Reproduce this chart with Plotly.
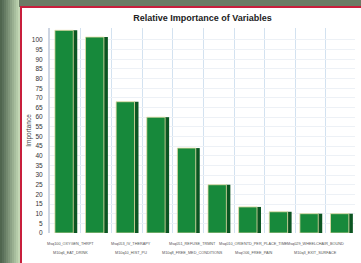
import plotly.graph_objects as go

categories = [
    "Msq100_OXYGEN_THRPT", "M10q6_EAT_DRINK", "Msq053_IV_THERAPY", "M10q10_HIST_PU",
    "Msq051_REFUSE_TRMNT", "M10q8_FREE_MED_CONDITIONS", "Msq010_ORIENTD_PER_PLACE_TIME",
    "MsqO06_FREE_PAIN", "Msq029_WHEELCHAIR_BOUND", "M10q3_EXIT_SURFACE",
]
importance = [105, 101.5, 68, 60, 44, 25, 13.5, 11, 10, 10]
y_ticks = list(range(0, 101, 5))

W, H = 361, 263
L, R, T, B = 50, 6, 28, 30
pw, ph = W - L - R, H - T - B

def px(x):
    return (x - L) / pw

def py(y):
    return 1 - (y - T) / ph

idx = list(range(len(categories)))

fig = go.Figure()
# side faces (3D depth)
fig.add_trace(go.Bar(
    x=idx, y=importance, width=0.14, offset=0.29,
    marker=dict(color="#0b5522", line=dict(width=0)),
    hoverinfo="skip", showlegend=False,
))
# front faces
fig.add_trace(go.Bar(
    x=idx, y=importance, width=0.6,
    marker=dict(color="#17893b", line=dict(color="#e6dca6", width=0.8)),
    showlegend=False,
))

shapes = []
# left gradient strip
left_cols = ["#50664f", "#5a705a", "#667c64", "#73896f", "#80967b", "#8da386",
             "#9ab091", "#a7bd9d", "#b4caa8", "#c2d7b4"]
for i, c in enumerate(left_cols):
    shapes.append(dict(type="rect", xref="paper", yref="paper",
                       x0=px(i * 2), x1=px(i * 2 + 2.2), y0=py(H), y1=py(0),
                       fillcolor=c, line=dict(width=0), layer="below"))
# top band
shapes.append(dict(type="rect", xref="paper", yref="paper",
                   x0=px(19), x1=px(W + 2), y0=py(7), y1=py(-2),
                   fillcolor="#6a7b65", line=dict(width=0), layer="below"))
# red frame
shapes.append(dict(type="rect", xref="paper", yref="paper",
                   x0=px(21), x1=px(W + 5), y0=py(H + 5), y1=py(7),
                   fillcolor="white", line=dict(color="#c81e3c", width=2), layer="below"))

# staggered category labels: two rows, each pair sits under the odd bar
annotations = []
for i, name in enumerate(categories):
    row = i % 2
    annotations.append(dict(
        x=(i - row) + 0.2, xref="x", y=py(244 + row * 9), yref="paper",
        text=name, showarrow=False, xanchor="center", yanchor="middle",
        font=dict(family="Liberation Sans, Arial", size=3.8, color="#555"),
    ))

fig.update_layout(
    width=W, height=H,
    margin=dict(l=L, r=R, t=T, b=B, autoexpand=False),
    paper_bgcolor="white", plot_bgcolor="white",
    barmode="overlay",
    shapes=shapes,
    annotations=annotations,
    title=dict(text="<b>Relative Importance of Variables</b>", x=0.5, xref="paper",
               y=1 - 18 / H, yanchor="middle",
               font=dict(family="Liberation Sans, Arial", size=9, color="#222")),
    xaxis=dict(
        range=[-0.46, 9.5], showticklabels=False,
        showgrid=False, zeroline=False, ticks="",
        minor=dict(tick0=0.55, dtick=1, showgrid=True, gridcolor="#d3e2f0", ticks=""),
        showline=False, automargin=False,
    ),
    yaxis=dict(
        range=[0, 106.2], tickvals=y_ticks,
        tickfont=dict(family="Liberation Sans, Arial", size=6.5, color="#333"),
        title=dict(text="Importance", font=dict(family="Liberation Sans, Arial", size=6.5, color="#444"),
                   standoff=0),
        showgrid=True, gridcolor="#edf1f6", zeroline=False,
        showline=True, linecolor="#cdd5e2", linewidth=2, ticks="", ticklen=0,
        ticklabelstandoff=4, automargin=False,
    ),
    bargap=0.4,
)

fig.write_html("out.html", config={"displayModeBar": False},
               post_script="document.body.style.margin='0';document.body.style.overflow='hidden';")
